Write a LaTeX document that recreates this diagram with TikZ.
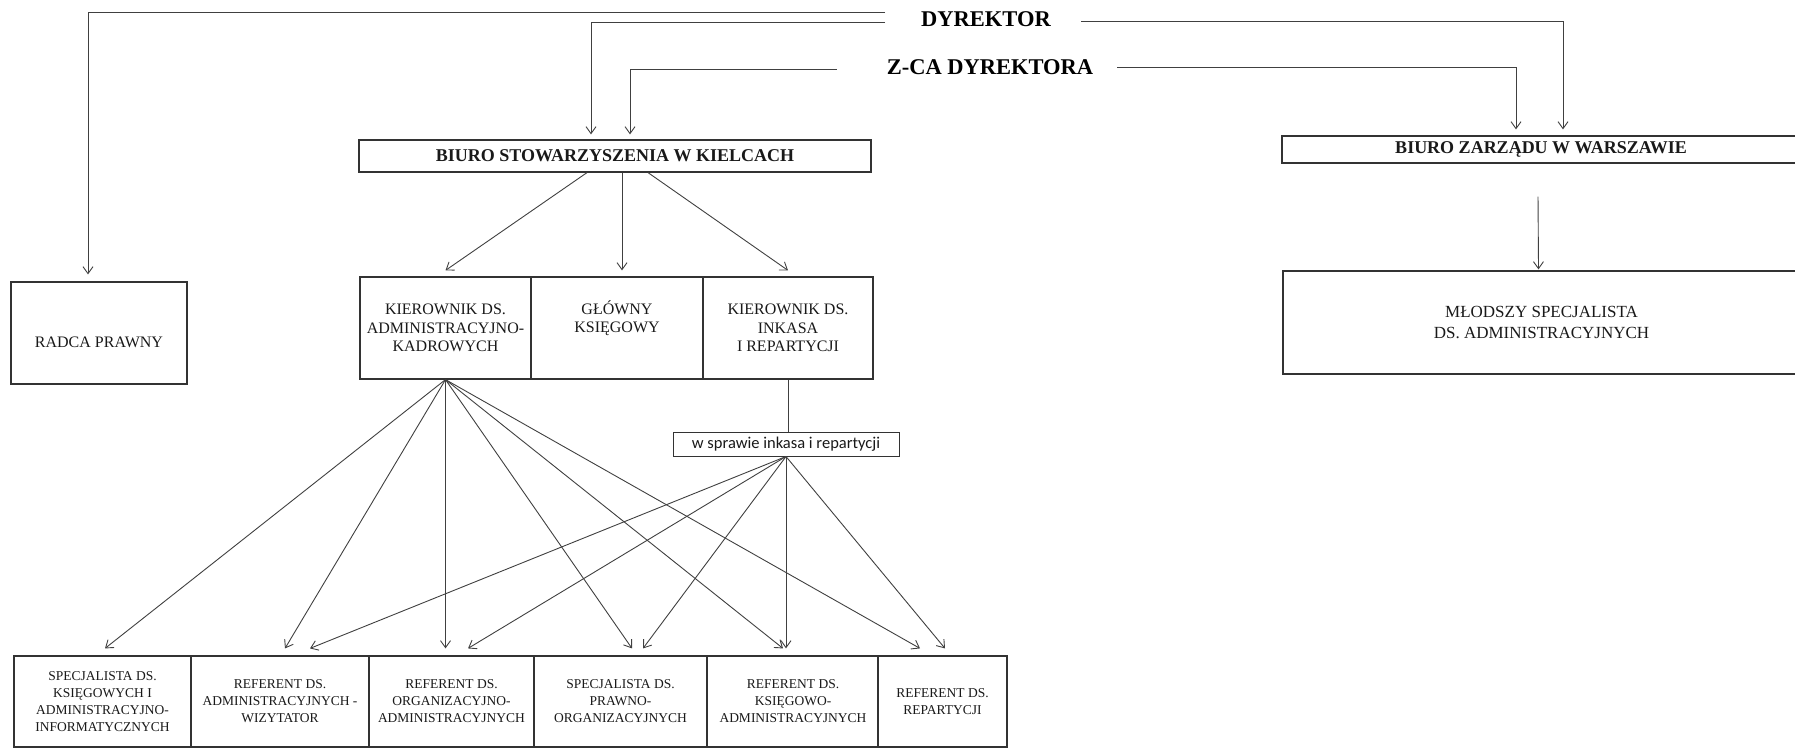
\documentclass[tikz,border=0pt]{standalone}
\usepackage{fontspec}
\setmainfont{Liberation Serif}
\newfontfamily\calib{Carlito}
\usetikzlibrary{arrows.meta}

\begin{document}
\begin{tikzpicture}[
    x=1pt, y=-1pt,
    line/.style={draw=black!75, line width=0.9pt},
    arr/.style={line, -{Straight Barb[length=7pt, width=10pt]}},
    box/.style={draw=black!80, line width=1.2pt, inner sep=0pt, align=center,
        text=black!90, font=\fontsize{16}{18.5}\selectfont},
    small/.style={box, minimum height=91pt, font=\fontsize{13.5}{17}\selectfont},
    title/.style={box, font=\bfseries\fontsize{18}{20}\selectfont},
    header/.style={font=\bfseries\fontsize{22.5}{24}\selectfont, inner xsep=30pt, inner ysep=0pt},
]
    \useasboundingbox (0,0) rectangle (1795,752);

    % Management
    \node[header] (dyr) at (986,19) {DYREKTOR};
    \node[header] (zca) at (990,67) {Z-CA DYREKTORA};

    % Offices
    \node[title, minimum width=512pt, minimum height=32pt] (kielce) at (615,156) {BIURO STOWARZYSZENIA W KIELCACH};
    \node[title, minimum width=518pt, minimum height=27pt] (warsz) at (1541,149.5) {BIURO ZARZĄDU W WARSZAWIE};

    % Second level
    \node[box, minimum width=176pt, minimum height=102pt] (radca) at (99,333) {};
    \node[text=black!90, font=\fontsize{16}{18.5}\selectfont] (radcatxt) at (99,342) {RADCA PRAWNY};
    \node[box, minimum width=171pt, minimum height=102pt] (kad) at (445.5,328) {KIEROWNIK DS.\\ADMINISTRACYJNO-\\KADROWYCH};
    \node[box, minimum width=172pt, minimum height=102pt] (ksieg) at (617,328) {};
    \node[align=center, text=black!90, font=\fontsize{16}{18.5}\selectfont] (ksiegtxt) at (617,318) {GŁÓWNY\\KSIĘGOWY};
    \node[box, minimum width=170pt, minimum height=102pt] (inkasa) at (788,328) {KIEROWNIK DS.\\INKASA\\I REPARTYCJI};
    \node[box, minimum width=517pt, minimum height=103pt, font=\fontsize{17}{21}\selectfont] (mlodszy) at (1541.5,322.5) {MŁODSZY SPECJALISTA\\DS. ADMINISTRACYJNYCH};

    % Note box
    \node[box, line width=1pt, minimum width=226pt, minimum height=24pt, font=\calib\fontsize{16.5}{18}\selectfont] (wspr) at (786,444) {w sprawie inkasa i repartycji};

    % Bottom row
    \node[small, minimum width=177pt] (b1) at (102.5,701.5) {SPECJALISTA DS.\\KSIĘGOWYCH I\\ADMINISTRACYJNO-\\INFORMATYCZNYCH};
    \node[small, minimum width=178pt] (b2) at (280,701.5) {REFERENT DS.\\ADMINISTRACYJNYCH -\\WIZYTATOR};
    \node[small, minimum width=165pt] (b3) at (451.5,701.5) {REFERENT DS.\\ORGANIZACYJNO-\\ADMINISTRACYJNYCH};
    \node[small, minimum width=173pt] (b4) at (620.5,701.5) {SPECJALISTA DS.\\PRAWNO-\\ORGANIZACYJNYCH};
    \node[small, minimum width=171pt] (b5) at (793,701.5) {REFERENT DS.\\KSIĘGOWO-\\ADMINISTRACYJNYCH};
    \node[small, minimum width=129pt] (b6) at (942.5,701.5) {REFERENT DS.\\REPARTYCJI};

    % Lines from the top
    \draw[arr] ([xshift=-6pt,yshift=7pt]dyr.west) -| ([xshift=-11pt,yshift=7pt]radca.north);
    \draw[arr] ([xshift=-6pt,yshift=-3pt]dyr.west) -| ([xshift=-24pt,yshift=5pt]kielce.north);
    \draw[arr] ([yshift=-2pt]dyr.east) -| ([xshift=22pt,yshift=6pt]warsz.north);
    \draw[arr] ([xshift=-20pt,yshift=-2pt]zca.west) -| ([xshift=15pt,yshift=5pt]kielce.north);
    \draw[arr] ([xshift=-6pt]zca.east) -| ([xshift=-25pt,yshift=6pt]warsz.north);

    % Offices to second level
    \draw[arr] ([xshift=-28pt]kielce.south) -- ([yshift=6pt]kad.north);
    \draw[arr] ([xshift=7pt]kielce.south) -- ([xshift=5pt,yshift=6pt]ksieg.north);
    \draw[arr] ([xshift=33pt]kielce.south) -- ([yshift=6pt]inkasa.north);
    \draw[arr] ([xshift=-3pt,yshift=-33pt]warsz.south) -- ([xshift=-3pt,yshift=1pt]mlodszy.north);
    \draw[line] (inkasa.south) -- (inkasa.south |- wspr.north);

    % Second level to bottom row
    \draw[arr] (kad.south) -- ([xshift=2.5pt,yshift=7pt]b1.north);
    \draw[arr] (kad.south) -- ([xshift=5pt,yshift=7pt]b2.north);
    \draw[arr] (kad.south) -- ([yshift=7pt]kad.south |- b3.north);
    \draw[arr] (kad.south) -- ([xshift=11.5pt,yshift=7pt]b4.north);
    \draw[arr] (kad.south) -- ([xshift=-10pt,yshift=7pt]b5.north);
    \draw[arr] (kad.south) -- ([xshift=-22.5pt,yshift=7pt]b6.north);

    \draw[arr] (wspr.south) -- ([xshift=30pt,yshift=7pt]b2.north);
    \draw[arr] (wspr.south) -- ([xshift=16.5pt,yshift=7pt]b3.north);
    \draw[arr] (wspr.south) -- ([xshift=22.5pt,yshift=7pt]b4.north);
    \draw[arr] (wspr.south) -- ([yshift=7pt]wspr.south |- b5.north);
    \draw[arr] (wspr.south) -- ([xshift=2.5pt,yshift=7pt]b6.north);
\end{tikzpicture}
\end{document}
